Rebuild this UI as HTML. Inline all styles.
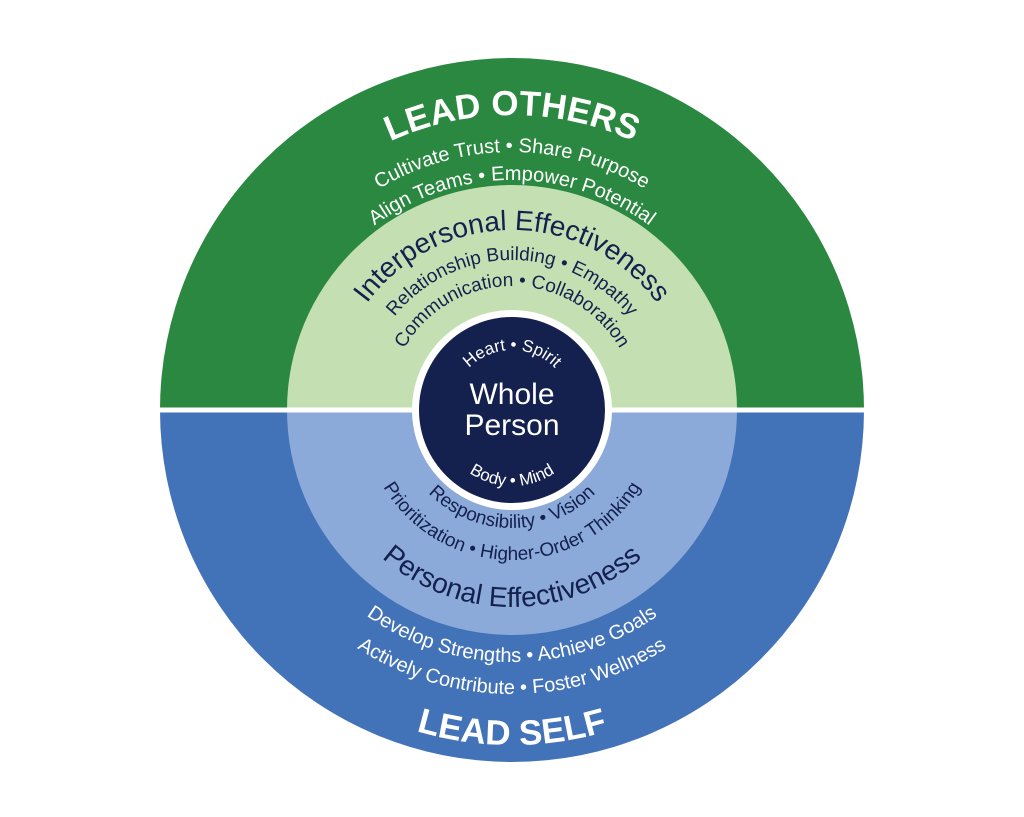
<!DOCTYPE html>
<html><head><meta charset="utf-8"><style>
html,body{margin:0;padding:0;background:#fff;}
svg{display:block;}
text{font-family:"Liberation Sans",sans-serif;}
</style></head><body>
<svg width="1024" height="817" viewBox="0 0 1024 817" xmlns="http://www.w3.org/2000/svg">
<defs>
<path id="t295" d="M217,410 A295,295 0 0 1 807,410"/>
<path id="t258" d="M254,410 A258,258 0 0 1 770,410"/>
<path id="t230" d="M282,410 A230,230 0 0 1 742,410"/>
<path id="t180" d="M332,410 A180,180 0 0 1 692,410"/>
<path id="t150" d="M362,410 A150,150 0 0 1 662,410"/>
<path id="t124" d="M388,410 A124,124 0 0 1 636,410"/>
<path id="t60" d="M452,410 A60,60 0 0 1 572,410"/>
<path id="b76" d="M436,410 A76,76 0 0 0 588,410"/>
<path id="b118" d="M394,410 A118,118 0 0 0 630,410"/>
<path id="b150" d="M362,410 A150,150 0 0 0 662,410"/>
<path id="b197" d="M315,410 A197,197 0 0 0 709,410"/>
<path id="b252" d="M260,410 A252,252 0 0 0 764,410"/>
<path id="b284" d="M228,410 A284,284 0 0 0 796,410"/>
<path id="b335" d="M177,410 A335,335 0 0 0 847,410"/>
</defs>
<path d="M160,410 A352,352 0 0 1 864,410 Z" fill="#2a8840"/>
<path d="M160,410 A352,352 0 0 0 864,410 Z" fill="#4272b8"/>
<path d="M287,410 A225,225 0 0 1 737,410 Z" fill="#c4e0b3"/>
<path d="M287,410 A225,225 0 0 0 737,410 Z" fill="#8caad9"/>
<rect x="150" y="407.5" width="724" height="5" fill="#fff"/>
<circle cx="512" cy="410" r="100" fill="#fff"/>
<circle cx="512" cy="410" r="93" fill="#14204e"/>

<g fill="#fff">
<text font-size="35" font-weight="bold" text-anchor="middle"><textPath href="#t295" startOffset="50%">LEAD OTHERS</textPath></text>
<text font-size="20" text-anchor="middle"><textPath href="#t258" startOffset="50%">Cultivate Trust  •  Share Purpose</textPath></text>
<text font-size="20" text-anchor="middle"><textPath href="#t230" startOffset="50%">Align Teams  •  Empower Potential</textPath></text>
<text font-size="17" text-anchor="middle"><textPath href="#t60" startOffset="50%">Heart • Spirit</textPath></text>
<text font-size="17" text-anchor="middle"><textPath href="#b76" startOffset="50%">Body • Mind</textPath></text>
<text x="512" y="404" font-size="30" text-anchor="middle">Whole</text>
<text x="512" y="435" font-size="30" text-anchor="middle">Person</text>
<text font-size="20" text-anchor="middle"><textPath href="#b252" startOffset="50%">Develop Strengths  •  Achieve Goals</textPath></text>
<text font-size="20" text-anchor="middle"><textPath href="#b284" startOffset="50%">Actively Contribute • Foster Wellness</textPath></text>
<text font-size="35" font-weight="bold" text-anchor="middle"><textPath href="#b335" startOffset="50%">LEAD SELF</textPath></text>
</g>
<g fill="#14204e">
<text font-size="28" text-anchor="middle"><textPath href="#t180" startOffset="50%">Interpersonal Effectiveness</textPath></text>
<text font-size="19" text-anchor="middle"><textPath href="#t150" startOffset="50%">Relationship Building • Empathy</textPath></text>
<text font-size="19" text-anchor="middle"><textPath href="#t124" startOffset="50%">Communication • Collaboration</textPath></text>
<text font-size="19" text-anchor="middle"><textPath href="#b118" startOffset="50%">Responsibility • Vision</textPath></text>
<text font-size="19" text-anchor="middle"><textPath href="#b150" startOffset="50%">Prioritization • Higher-Order Thinking</textPath></text>
<text font-size="28" text-anchor="middle"><textPath href="#b197" startOffset="50%">Personal Effectiveness</textPath></text>
</g>
</svg>
</body></html>
